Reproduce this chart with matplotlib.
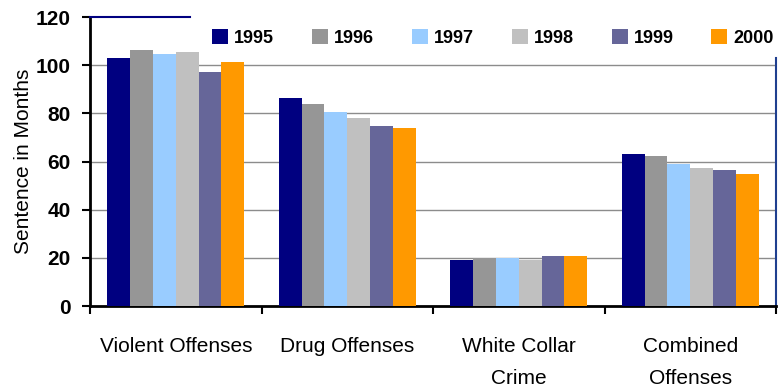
import numpy as np
import matplotlib
matplotlib.use('Agg')
import matplotlib.pyplot as plt

plt.rcParams['font.family'] = ['Liberation Sans', 'DejaVu Sans']

categories = ['Violent Offenses', 'Drug Offenses', 'White Collar\nCrime', 'Combined\nOffenses']
years = ['1995', '1996', '1997', '1998', '1999', '2000']
months_1995 = [103.0, 86.3, 19.1, 63.1]
months_1996 = [106.2, 83.8, 19.9, 62.2]
months_1997 = [104.6, 80.5, 19.9, 58.9]
months_1998 = [105.4, 78.0, 19.1, 57.3]
months_1999 = [97.1, 74.7, 20.7, 56.4]
months_2000 = [101.2, 73.9, 20.7, 54.8]
yticks = [0, 20, 40, 60, 80, 100, 120]

series = [months_1995, months_1996, months_1997, months_1998, months_1999, months_2000]
colors = ['#000080', '#969696', '#99ccff', '#c0c0c0', '#666699', '#ff9900']

fig = plt.figure(figsize=(7.78, 3.91), dpi=100)
ax = fig.add_axes([90 / 778, 1 - 306 / 391, 686 / 778, 289 / 391])

x = np.arange(len(categories))
w = 0.8 / len(series)
for i, (vals, c, yr) in enumerate(zip(series, colors, years)):
    ax.bar(x + (i - 2.5) * w, vals, w, color=c, label=yr, zorder=3)

# horizontal gridlines (the top one is left out, the border covers it)
for t in yticks[1:-1]:
    ax.axhline(t, color='#8c8c8c', lw=1, zorder=1)

ax.set_xlim(-0.5, len(categories) - 0.5)
ax.set_ylim(0, 120)
ax.set_yticks(yticks)
ax.set_yticklabels([str(t) for t in yticks], fontsize=15, fontweight='bold')
ax.tick_params(axis='y', length=6, width=1.5, pad=8)

# category boundaries carry the tick marks, labels sit in between
ax.set_xticks(np.arange(len(categories) + 1) - 0.5)
ax.set_xticklabels([])
ax.tick_params(axis='x', which='major', length=6, width=1.5)
ax.set_xticks(x, minor=True)
ax.set_xticklabels(categories, minor=True, fontsize=15, linespacing=1.9)
ax.tick_params(axis='x', which='minor', length=0, pad=22)

for side in ['left', 'bottom']:
    ax.spines[side].set_linewidth(2)
    ax.spines[side].set_color('black')
ax.spines['top'].set_color('#000080')
ax.spines['top'].set_linewidth(1.5)
ax.spines['top'].set_bounds(-0.5, 0.083)
ax.spines['right'].set_color('#1f3f8f')
ax.spines['right'].set_linewidth(1.5)
ax.spines['right'].set_bounds(0, 103)

ax.set_ylabel('Sentence in Months', fontsize=15)
ax.yaxis.set_label_coords(-0.083, 0.5)

ax.legend(ncol=6, loc='center left', bbox_to_anchor=(0.178, 0.927),
          frameon=False, prop={'weight': 'bold', 'size': 13},
          handlelength=0.886, handleheight=0.886, handletextpad=0.33,
          columnspacing=2.1, borderpad=0, borderaxespad=0)

fig.savefig('out.png', dpi=100)
